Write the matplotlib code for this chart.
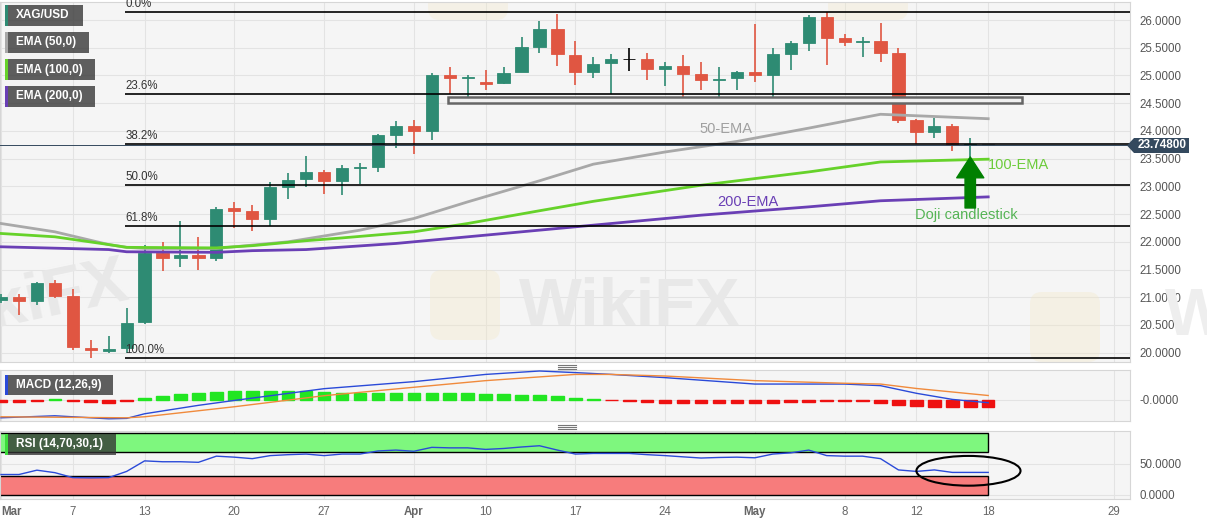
import numpy as np
import matplotlib
matplotlib.use("Agg")
import matplotlib.pyplot as plt
from matplotlib.patches import Rectangle, Polygon, Ellipse, FancyBboxPatch
from matplotlib.transforms import Affine2D

plt.rcParams['font.family'] = ['Liberation Sans', 'DejaVu Sans']

# ---- data (daily XAG/USD, index = trading day from 1 Mar) ----
opens = [20.95, 21.00, 20.93, 21.26, 21.02, 20.08, 20.03, 20.08, 20.55, 21.79,
         21.71, 21.77, 21.71, 22.61, 22.56, 22.41, 22.98, 23.13, 23.25, 23.09,
         23.33, 23.35, 23.93, 24.09, 23.99, 25.01, 24.95, 24.88, 24.87, 25.07,
         25.51, 25.83, 25.37, 25.07, 25.22, 25.29, 25.30, 25.12, 25.17, 25.03,
         24.92, 24.95, 25.07, 25.01, 25.39, 25.59, 26.05, 25.67, 25.61, 25.62,
         25.40, 24.20, 23.98, 24.09, 23.745, 23.748]
highs = [21.05, 21.06, 21.27, 21.31, 21.15, 20.23, 20.30, 20.80, 21.94, 21.99,
         22.38, 22.09, 22.62, 22.72, 22.67, 23.07, 23.24, 23.54, 23.30, 23.38,
         23.43, 23.95, 24.18, 24.20, 25.04, 25.15, 25.01, 25.09, 25.15, 25.69,
         25.98, 26.11, 25.62, 25.33, 25.38, 25.50, 25.40, 25.25, 25.37, 25.24,
         25.16, 25.08, 25.93, 25.49, 25.62, 26.09, 26.14, 25.74, 25.69, 25.94,
         25.49, 24.21, 24.23, 24.12, 23.88, 23.748]
lows = [20.90, 20.68, 20.86, 20.98, 20.05, 19.91, 19.99, 20.00, 20.52, 21.48,
        21.55, 21.49, 21.66, 22.24, 22.19, 22.29, 22.77, 22.98, 22.86, 22.85,
        23.05, 23.25, 23.70, 23.58, 23.84, 24.67, 24.57, 24.74, 24.84, 25.06,
        25.41, 25.17, 24.83, 24.96, 24.66, 25.08, 24.92, 24.81, 24.50, 24.73,
        24.52, 24.73, 24.89, 24.59, 25.09, 25.45, 25.19, 25.53, 25.34, 25.24,
        24.15, 23.76, 23.88, 23.64, 23.53, 23.748]
closes = [21.00, 20.94, 21.25, 21.03, 20.10, 20.04, 20.07, 20.53, 21.80, 21.71,
          21.77, 21.70, 22.60, 22.56, 22.41, 22.98, 23.11, 23.25, 23.09, 23.34,
          23.35, 23.92, 24.09, 23.99, 25.01, 24.95, 24.98, 24.85, 25.05, 25.51,
          25.83, 25.38, 25.07, 25.21, 25.29, 25.29, 25.12, 25.17, 25.03, 24.92,
          24.94, 25.07, 25.01, 25.39, 25.59, 26.05, 25.67, 25.60, 25.63, 25.40,
          24.20, 23.98, 24.09, 23.76, 23.748, 23.748]
last_price = 23.748
cursor_bar = 35
live_bar = 55

ema50_idx = [0, 3, 6, 7, 8, 12, 16, 20, 23, 26, 30, 33, 37, 41, 45, 49, 55]
ema50_val = [22.33, 22.18, 21.95, 21.90, 21.88, 21.88, 22.00, 22.21, 22.42, 22.72,
             23.10, 23.40, 23.62, 23.81, 24.05, 24.30, 24.22]
ema100_idx = [0, 3, 6, 7, 12, 14, 17, 19, 23, 26, 30, 33, 39, 45, 49, 55]
ema100_val = [22.15, 22.09, 21.95, 21.90, 21.89, 21.93, 22.02, 22.07, 22.18, 22.33,
              22.56, 22.73, 23.02, 23.26, 23.44, 23.49]
ema200_idx = [0, 6, 7, 12, 14, 17, 22, 24, 30, 39, 45, 49, 55]
ema200_val = [21.91, 21.86, 21.82, 21.81, 21.84, 21.86, 21.97, 22.03, 22.21, 22.48,
              22.63, 22.74, 22.81]

fib_high = 26.14
fib_low = 19.91
fib_ratios = [0.0, 0.236, 0.382, 0.5, 0.618, 1.0]
fib_start = 6.9

zone_low, zone_high = 24.50, 24.61
zone_start, zone_end = 24.9, 56.9

macd_idx = [0, 3, 6, 7, 8, 11, 13, 18, 23, 27, 30, 32, 34, 37, 42, 47, 49, 51, 53, 55]
macd_val = [-0.45, -0.40, -0.475, -0.465, -0.35, -0.14, -0.018, 0.275, 0.45, 0.63,
            0.715, 0.675, 0.63, 0.55, 0.39, 0.39, 0.35, 0.16, 0.008, -0.075]
signal_idx = [0, 7, 8, 13, 18, 23, 27, 32, 34, 37, 42, 47, 49, 51, 55]
signal_val = [-0.425, -0.45, -0.425, -0.175, 0.10, 0.31, 0.475, 0.63, 0.63, 0.59,
              0.475, 0.41, 0.39, 0.28, 0.105]
macd_hist = [-0.05, -0.05, -0.025, 0.012, -0.025, -0.062, -0.075, -0.038, 0.05, 0.10,
             0.138, 0.162, 0.188, 0.212, 0.212, 0.225, 0.225, 0.212, 0.20, 0.175,
             0.162, 0.162, 0.162, 0.162, 0.175, 0.175, 0.162, 0.15, 0.138, 0.125,
             0.125, 0.088, 0.05, 0.025, -0.012, -0.038, -0.062, -0.075, -0.088, -0.088,
             -0.088, -0.088, -0.088, -0.075, -0.062, -0.05, -0.025, -0.025, -0.038, -0.075,
             -0.125, -0.15, -0.175, -0.188, -0.175, -0.175]

rsi = [33, 33, 40, 36, 28, 27.6, 28, 38, 55, 53.6,
       53.6, 52.7, 62.6, 61, 58.6, 63.5, 65, 66, 63.5, 66,
       66, 71, 72.4, 70.5, 76.8, 76, 76, 73.5, 75, 77.4,
       79.4, 72.4, 66, 67, 67, 67, 65, 63.5, 61.5, 59.6,
       60.5, 61, 60, 66, 68, 72.4, 63.5, 62.6, 62.6, 58.6,
       40.4, 38, 40.4, 36.4, 36.4, 36.4]

date_ticks = [0, 4, 8, 13, 18, 23, 27, 32, 37, 42, 47, 51, 55, 62]
date_labels = ['Mar', '7', '13', '20', '27', 'Apr', '10', '17', '24', 'May', '8', '12', '18', '29']
month_labels = ['Mar', 'Apr', 'May']

# ---- figure ----
W, H = 1207, 526
fig = plt.figure(figsize=(W / 100, H / 100), dpi=100)
fig.patch.set_facecolor('white')
px = Affine2D().scale(1, -1).translate(0, H)   # pixel (top-left origin) -> display


def rect(x0, y0, x1, y1):
    return [x0 / W, 1 - y1 / H, (x1 - x0) / W, (y1 - y0) / H]


ax = fig.add_axes(rect(0, 2, 1130, 362))
axm = fig.add_axes(rect(0, 370, 1130, 421), sharex=ax)
axr = fig.add_axes(rect(0, 431, 1130, 499), sharex=ax)

for a in (ax, axm, axr):
    a.set_facecolor('#f5f5f5')
    for s in a.spines.values():
        s.set_color('#d6d6d6')
    a.yaxis.tick_right()
    a.tick_params(length=0, colors='#555555', labelsize=8.3, pad=7)
    a.grid(True, color='#e3e3e3', lw=0.8)
    a.set_axisbelow(True)

ax.set_xlim(-0.056, 62.9)
ax.set_ylim(19.832, 26.325)
ax.set_yticks(np.arange(20, 26.01, 0.5))
ax.set_yticklabels([f'{v:.4f}' for v in np.arange(20, 26.01, 0.5)])
ax.set_xticks(date_ticks)
ax.tick_params(labelbottom=False)
axm.tick_params(labelbottom=False)

# candles
xs = np.arange(len(opens))
o = np.array(opens)
c = np.array(closes)
cols = ['#2e8b73' if cc >= oo else '#e05642' for oo, cc in zip(opens, closes)]
cols[cursor_bar] = 'black'
cols[live_bar] = '#aaaaaa'
ax.vlines(xs, lows, highs, colors=cols, lw=1.2, zorder=3)
ax.bar(xs, np.maximum(np.abs(c - o), 0.012), bottom=np.minimum(o, c), width=0.68,
       color=cols, edgecolor=cols, lw=0.6, zorder=4)

# EMAs
ax.plot(ema50_idx, ema50_val, color='#a8a8a8', lw=2, zorder=5)
ax.plot(ema100_idx, ema100_val, color='#66d22a', lw=2, zorder=5)
ax.plot(ema200_idx, ema200_val, color='#6a3fb5', lw=2, zorder=5)

# price line, fib, zone
ax.axhline(last_price, color='#34495e', lw=0.7, zorder=5)
for r in fib_ratios:
    lvl = fib_high - r * (fib_high - fib_low)
    ax.hlines(lvl, fib_start, 62.9, color='black', lw=1.2, zorder=6)
    ax.annotate(f'{r * 100:.1f}%', (fib_start, lvl), xytext=(0.5, 1.5), textcoords='offset points',
                fontsize=8.3, color='#333333', va='bottom', ha='left', zorder=6)
ax.add_patch(Rectangle((zone_start, zone_low), zone_end - zone_start, zone_high - zone_low,
                       fc='#f0f0f0', ec='#666666', lw=1.8, zorder=6, clip_on=False))

# annotations
ax.text(38.9, 24.03, '50-EMA', color='#a0a0a0', fontsize=10.5, va='center', zorder=7)
ax.text(55.0, 23.385, '100-EMA', color='#6ccc3a', fontsize=10.5, va='center', zorder=7)
ax.text(39.9, 22.72, '200-EMA', color='#6a3fb5', fontsize=10.5, va='center', zorder=7)
ax.text(50.9, 22.48, 'Doji candlestick', color='#55b455', fontsize=10.5, va='center', zorder=7)
ax.annotate('', xy=(54, 23.53), xytext=(54, 22.61),
            arrowprops=dict(arrowstyle='simple,head_length=1.0,head_width=1.3,tail_width=0.5',
                            color='#008000', mutation_scale=15, shrinkA=0, shrinkB=0), zorder=7)

# watermarks (faint)
for (lx, ly) in [(430, 270), (1030, 292)]:
    ax.add_patch(FancyBboxPatch((lx, ly), 70, 70, boxstyle='round,pad=0,rounding_size=12',
                                transform=px, fc='#f3e7c6', ec='none', alpha=0.35, zorder=1, clip_on=False))
for (lx, ly) in [(428, -45), (828, -45)]:
    ax.add_patch(FancyBboxPatch((lx, ly), 80, 65, boxstyle='round,pad=0,rounding_size=12',
                                transform=px, fc='#f3e7c6', ec='none', alpha=0.3, zorder=1))
ax.text(630, 308, 'WikiFX', transform=px, fontsize=48, fontweight='bold', color='#e8e8e8',
        ha='center', va='center', zorder=1)
ax.text(135, 305, 'WikiFX', transform=px, fontsize=48, fontweight='bold', color='#e8e8e8',
        ha='right', va='center', rotation=12, zorder=1)
fig.text(1165 / W, 1 - 318 / H, 'Wi', fontsize=48, fontweight='bold', color='#eeeeee',
         ha='left', va='center', zorder=0)

# MACD panel
axm.set_ylim(-0.53, 0.74)
axm.set_yticks([0])
axm.set_yticklabels(['-0.0000'])
hcols = ['#22e622' if v >= 0 else '#ee1111' for v in macd_hist]
axm.bar(xs, macd_hist, width=0.7, color=hcols, edgecolor=hcols, lw=1.0, zorder=3)
axm.plot(macd_idx, macd_val, color='#2a4ad8', lw=1, zorder=4)
axm.plot(signal_idx, signal_val, color='#f08a3c', lw=1, zorder=4)

# RSI panel
axr.set_ylim(-6.5, 103.2)
axr.set_yticks([0, 50])
axr.set_yticklabels(['0.0000', '50.0000'])
axr.add_patch(Rectangle((-0.5, 70), live_bar + 0.5, 30, fc='#7ef77e', ec='black', lw=1, zorder=2))
axr.add_patch(Rectangle((-0.5, 0), live_bar + 0.5, 30, fc='#f77c7c', ec='black', lw=1, zorder=2))
axr.plot(xs, rsi, color='#2a4ad8', lw=1, zorder=4)
axr.add_patch(Ellipse((53.9, 39), 5.8, 48, fill=False, ec='black', lw=1.5, zorder=6, clip_on=False))
axr.set_xticklabels(date_labels)
axr.tick_params(axis='x', pad=5, labelsize=8.3, colors='#666666')
for t in axr.get_xticklabels():
    if t.get_text() in month_labels:
        t.set_fontweight('bold')
axr.get_xticklabels()[0].set_ha('left')

# legend boxes
boxes = [((5, 5, 83, 26), 'XAG/USD', '#2e8b73'),
         ((5, 32, 89, 53), 'EMA (50,0)', '#a8a8a8'),
         ((5, 59, 95, 80), 'EMA (100,0)', '#66d22a'),
         ((5, 86, 95, 107), 'EMA (200,0)', '#6a3fb5'),
         ((5, 375, 113, 395), 'MACD (12,26,9)', '#2a4ad8'),
         ((5, 434, 116, 455), 'RSI (14,70,30,1)', '#3ddc3d')]
for (x0, y0, x1, y1), label, sc in boxes:
    fig.add_artist(Rectangle((x0, y0), x1 - x0, y1 - y0, transform=px, fc='#333333', alpha=0.78, ec='none'))
    fig.add_artist(Rectangle((x0, y0), 2.5, y1 - y0, transform=px, fc=sc, ec='none'))
    fig.text((x0 + 11) / W, 1 - (y0 + y1) / 2 / H, label, color='white', fontsize=8.5,
             fontweight='bold', va='center', ha='left')

# panel handles
for yy in (364.5, 366.5, 368.5, 424.5, 426.5, 428.5):
    fig.add_artist(plt.Line2D([558, 576], [yy, yy], transform=px, color='#777777', lw=0.8))

# current price tag
fig.add_artist(Polygon([(1127, 145.5), (1134, 138), (1189, 138), (1189, 153), (1134, 153)],
                       closed=True, transform=px, fc='#34495e', ec='none'))
fig.text(1162 / W, 1 - 145.5 / H, f'{last_price:.5f}', color='white', fontsize=8.5,
         fontweight='bold', ha='center', va='center')

fig.savefig('out.png', dpi=100)
